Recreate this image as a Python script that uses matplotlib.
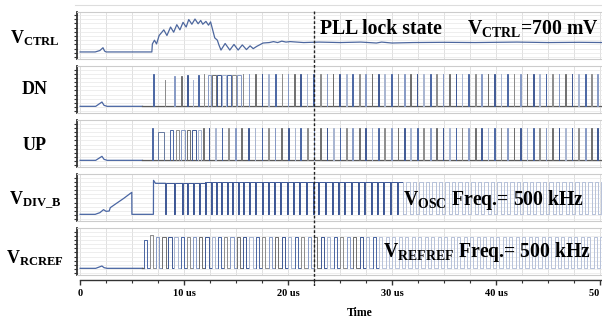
import numpy as np
import matplotlib
matplotlib.use('Agg')
import matplotlib.pyplot as plt
from matplotlib.lines import Line2D

plt.rcParams['font.family'] = 'Liberation Serif'
plt.rcParams['font.weight'] = 'bold'
plt.rcParams['mathtext.fontset'] = 'custom'
plt.rcParams['mathtext.rm'] = 'Liberation Serif:bold'
plt.rcParams['mathtext.bf'] = 'Liberation Serif:bold'
plt.rcParams['mathtext.it'] = 'Liberation Serif:bold'

# ---- data (time in us) ----
# V_CTRL trace: (time, level as fraction of panel)
vctrl_t = [0, 1.45, 1.9, 2.2, 2.35, 2.5, 6.9, 6.95, 7.15, 7.35, 7.6, 8.05, 8.35, 8.7, 9.0, 9.3,
           9.6, 9.9, 10.2, 10.45, 10.75, 11.05, 11.35, 11.6, 11.8, 12.1, 12.35, 12.55, 12.75,
           12.95, 13.2, 13.35, 13.55, 13.95, 14.4, 14.8, 15.2, 15.6, 16.0, 16.35, 16.65, 17.0,
           17.6, 18.2, 18.6, 19.0, 19.4, 19.8, 20.2, 21.5, 23.0, 25.0, 27.0, 28.5, 29.0, 30.0,
           32.0, 35.0, 38.0, 42.0, 45.0, 48.0, 50.5]
vctrl_v = [0.15, 0.15, 0.18, 0.24, 0.17, 0.15, 0.15, 0.32, 0.40, 0.32, 0.50, 0.62, 0.50, 0.68,
           0.57, 0.73, 0.62, 0.78, 0.68, 0.84, 0.74, 0.85, 0.75, 0.82, 0.74, 0.80, 0.72, 0.79,
           0.62, 0.45, 0.40, 0.30, 0.19, 0.33, 0.19, 0.31, 0.19, 0.30, 0.20, 0.28, 0.22, 0.27,
           0.34, 0.35, 0.37, 0.35, 0.38, 0.36, 0.37, 0.35, 0.36, 0.35, 0.36, 0.34, 0.36, 0.34,
           0.35, 0.355, 0.35, 0.36, 0.35, 0.355, 0.35]

# small start-up glitch seen on DN / UP / V_RCREF
bump_t = [0, 1.5, 2.1, 2.3, 2.6, 6.0]
dn_bump = [0, 0, 0.13, 0.03, 0, 0]
up_bump = [0, 0, 0.12, 0.03, 0, 0]
rc_bump = [0, 0, 0.07, 0.02, 0, 0]

# DN pulses
dn_spike_t = [7.0, 8.15, 9.05, 9.72, 10.3, 10.82, 11.35, 11.88]
dn_spike_h = [0.98, 0.80, 0.92, 0.92, 0.94, 0.80, 0.94, 0.97]
dn_wide_t = [12.28, 12.72, 13.2, 13.68, 14.16, 14.64, 15.12]
dn_lock_t = [15.62, 16.22, 16.83, 17.47, 18.11, 18.75, 19.39, 19.97, 20.61, 21.15, 21.8, 22.43,
             23.08, 23.72, 24.3, 24.93, 25.58, 26.18, 26.83, 27.4, 28.05, 28.68, 29.26, 29.9,
             30.55, 31.18, 31.73, 32.38, 33.01, 33.65, 34.23, 34.87, 35.48, 36.12, 36.7, 37.34,
             37.98, 38.56, 39.2, 39.81, 40.45, 41.06, 41.7, 42.31, 42.95, 43.56, 44.16, 44.78,
             45.38, 46.03, 46.63, 47.28, 47.91, 48.56, 49.13, 49.74]

# UP pulses
up_spike_t = [6.95]
up_first_wide = [7.53, 8.11]
up_mid_t = [8.65, 9.2, 9.72, 10.26, 10.78, 11.31]
up_lock_t = [11.86, 12.38, 12.98, 13.62, 14.26, 14.9, 15.5, 16.15, 16.8, 17.45, 18.08, 18.73,
             19.37, 19.99, 20.63, 21.17, 21.82, 22.45, 23.08, 23.7, 24.32, 24.95, 25.58, 26.2,
             26.83, 27.42, 28.06, 28.7, 29.27, 29.91, 30.55, 31.18, 31.75, 32.4, 33.02, 33.65,
             34.25, 34.88, 35.5, 36.12, 36.72, 37.35, 37.98, 38.58, 39.22, 39.82, 40.45, 41.08,
             41.7, 42.32, 42.95, 43.57, 44.17, 44.8, 45.4, 46.03, 46.65, 47.28, 47.92, 48.56,
             49.15, 49.75]

# V_DIV_B start-up ramp, then falling edges of the divider output
vdiv_pre_t = [0, 1.45, 1.9, 2.25, 2.5, 2.8, 2.9, 3.5, 4.2, 4.97, 4.98, 7.05, 7.06, 7.25, 8.17]
vdiv_pre_v = [0, 0, 0.05, 0.14, 0.09, 0.10, 0.20, 0.33, 0.48, 0.66, 0, 0, 1.02, 0.93, 0.93]
vdiv_dip_t = [8.17, 9.04, 9.78, 10.32, 10.89, 11.47, 12.02, 12.57, 13.08, 13.56, 14.1, 14.64,
              15.16, 15.7, 16.28, 16.83, 17.47, 18.11, 18.65, 19.23, 19.87, 20.51, 21.09, 21.73,
              22.37, 22.92, 23.56, 24.2, 24.84, 25.41, 26.06, 26.7, 27.34, 27.95, 28.53, 29.16,
              29.81, 30.45, 31.07, 31.7, 32.32, 32.95, 33.57, 34.2, 34.82, 35.45, 36.07, 36.7,
              37.32, 37.95, 38.57, 39.2, 39.82, 40.45, 41.07, 41.7, 42.32, 42.95, 43.57, 44.2,
              44.82, 45.45, 46.07, 46.7, 47.32, 47.95, 48.57, 49.2, 49.82]

# V_RCREF rising edges
rc_rise_t = [6.15, 6.73, 7.31, 7.91, 8.49, 9.07, 9.66, 10.26, 10.85, 11.44, 12.04, 12.64,
             13.24, 13.85, 14.45, 15.06, 15.67, 16.28, 16.9, 17.52, 18.15, 18.77, 19.4, 20.02,
             20.65, 21.27, 21.9, 22.52, 23.15, 23.77, 24.4, 25.02, 25.65, 26.27, 26.9, 27.52,
             28.15, 28.77, 29.4, 30.02, 30.65, 31.27, 31.9, 32.52, 33.15, 33.77, 34.4, 35.02,
             35.65, 36.27, 36.9, 37.52, 38.15, 38.77, 39.4, 40.02, 40.65, 41.27, 41.9, 42.52,
             43.15, 43.77, 44.4, 45.02, 45.65, 46.27, 46.9, 47.52, 48.15, 48.77, 49.4, 50.02]
rc_first_h = [0.85, 1.0, 0.93]

lock_t = 22.5
tick_vals = [0, 10, 20, 30, 40, 50]
tick_labels = ['0', '10 us', '20 us', '30 us', '40 us', '50 us']
row_labels = [r'$\mathbf{V_{CTRL}}$', 'DN', 'UP', r'$\mathbf{V_{DIV\_B}}$', r'$\mathbf{V_{RCREF}}$']

# ---- layout ----
W, H = 602, 322
XMIN, XMAX = -0.3, 50.2
MIX = ['#4a66a3', '#8c8c8c', '#8598c4', '#6e6e6e', '#3f5893', '#a7b4d0']
BASE = '#5a5a5a'
LIGHT = '#b7c2d9'
LW = 0.7

fig = plt.figure(figsize=(W / 100, H / 100), dpi=100)


def fy(py):
    return 1 - py / H


axes = []
for i in range(5):
    top = 12 + 54 * i
    ax = fig.add_axes([77 / W, fy(top + 47), 525 / W, 47 / H])
    ax.set_xlim(XMIN, XMAX)
    ax.set_ylim(-0.2, 1.21)
    ax.set_xticks(np.arange(0, 51, 2.5))
    ax.set_yticks(np.arange(-0.15, 1.2, 0.125))
    ax.grid(axis='x', color='#dadada', lw=0.6)
    ax.grid(axis='y', color='#e8e8e8', lw=0.5)
    ax.tick_params(labelbottom=False, labelleft=False, bottom=False, left=True,
                   length=2, width=0.8, color='#333333', direction='out')
    ax.spines['right'].set_visible(False)
    for s in ['top', 'bottom']:
        ax.spines[s].set_color('#cccccc')
        ax.spines[s].set_linewidth(0.8)
    ax.spines['left'].set_color('#333333')
    ax.spines['left'].set_linewidth(1.3)
    ax.set_axisbelow(True)
    axes.append(ax)


def pulse(ax, s, w, h, c, lw=LW):
    ax.plot([s, s, s + w, s + w], [0, h, h, 0], color=c, lw=lw, solid_joinstyle='miter')


# V_CTRL
ax = axes[0]
ax.set_ylim(0, 1)
ax.set_yticks(np.arange(0.04, 1.0, 0.09))
ax.plot(vctrl_t, vctrl_v, color='#4d679e', lw=0.9)

# DN
ax = axes[1]
ax.plot(bump_t, dn_bump, color='#4a66a3', lw=0.9)
ax.plot([6.0, XMAX], [0, 0], color=BASE, lw=0.9)
for k, (s, h) in enumerate(zip(dn_spike_t, dn_spike_h)):
    pulse(ax, s, 0.06, h, MIX[k % len(MIX)])
for k, s in enumerate(dn_wide_t):
    pulse(ax, s, 0.31, 0.95, MIX[(k + 2) % len(MIX)])
for k, s in enumerate(dn_lock_t):
    pulse(ax, s, 0.06, 0.97, MIX[(k + 1) % len(MIX)])

# UP
ax = axes[2]
ax.plot(bump_t, up_bump, color='#4a66a3', lw=0.9)
ax.plot([6.0, XMAX], [0, 0], color=BASE, lw=0.9)
for s in up_spike_t:
    pulse(ax, s, 0.08, 0.98, '#4a66a3')
pulse(ax, up_first_wide[0], up_first_wide[1] - up_first_wide[0], 0.85, '#66799f')
for k, s in enumerate(up_mid_t):
    pulse(ax, s, 0.33, 0.9, MIX[k % len(MIX)])
for k, s in enumerate(up_lock_t):
    pulse(ax, s, 0.06, 0.96, MIX[(k + 3) % len(MIX)])

# V_DIV_B
ax = axes[3]
ax.plot(vdiv_pre_t, vdiv_pre_v, color='#4a66a3', lw=0.9)
for k, d in enumerate(vdiv_dip_t):
    w = 0.1 if d < 30.5 else 0.31
    c = '#3d5795' if d < 30.5 else LIGHT
    h = 0.93 if d < 12 else 0.98
    end = vdiv_dip_t[k + 1] if k + 1 < len(vdiv_dip_t) else XMAX
    ax.plot([d, d, d + w, d + w, end, end], [h, 0, 0, h, h, 0 if end < XMAX else h],
            color=c, lw=LW)

# V_RCREF
ax = axes[4]
ax.plot(bump_t, rc_bump, color='#4a66a3', lw=0.9)
ax.plot([6.0, 6.15], [0, 0], color=BASE, lw=0.9)
for k, s in enumerate(rc_rise_t):
    h = rc_first_h[k] if k < len(rc_first_h) else 0.93
    c = MIX[k % len(MIX)] if s < 28.3 else LIGHT
    nxt = rc_rise_t[k + 1] if k + 1 < len(rc_rise_t) else XMAX
    ax.plot([s, s, s + 0.31, s + 0.31, nxt], [0, h, h, 0, 0], color=c, lw=LW)

# time axis
tax = fig.add_axes([77 / W, fy(280), 525 / W, 0.001])
tax.set_xlim(XMIN, XMAX)
tax.patch.set_visible(False)
for s in ['top', 'left', 'right']:
    tax.spines[s].set_visible(False)
tax.spines['bottom'].set_bounds(0, XMAX)
tax.spines['bottom'].set_color('#333333')
tax.spines['bottom'].set_linewidth(1.0)
tax.set_yticks([])
tax.set_xticks(tick_vals)
tax.set_xticklabels(tick_labels, fontsize=7.5, fontweight='bold')
tax.set_xticks(np.arange(0, 51, 2.5), minor=True)
tax.tick_params(axis='x', which='major', length=3.5, width=1.0, color='#333333', pad=3)
tax.tick_params(axis='x', which='minor', length=2, width=0.8, color='#333333')
fig.text(360 / W, fy(316), 'Time', ha='center', va='baseline', fontsize=8.5)

# lock marker
oax = fig.add_axes([77 / W, fy(286), 525 / W, (286 - 10) / H])
oax.set_xlim(XMIN, XMAX)
oax.set_ylim(0, 1)
oax.axis('off')
oax.axvline(lock_t, color='#222222', lw=1.0, ls=(0, (2, 1.5)))
fig.add_artist(Line2D([75 / W, 1], [fy(5), fy(5)], color='#dddddd', lw=0.8))

# row labels
for lab, yb in zip(row_labels, [43, 94, 150, 205, 263]):
    fig.text(35 / W, fy(yb), lab, ha='center', va='baseline', fontsize=13)

# annotations
fig.text(320 / W, fy(34), 'PLL lock state', ha='left', va='baseline', fontsize=14.2)
fig.text(467 / W, fy(34), r'$\mathbf{V_{CTRL}}$=700 mV', ha='left', va='baseline', fontsize=14.2)
fig.text(403 / W, fy(205), r'$\mathbf{V_{OSC}}$ Freq.= 500 kHz', ha='left', va='baseline',
         fontsize=14.2)
fig.text(383 / W, fy(257), r'$\mathbf{V_{REFREF}}$ Freq.= 500 kHz', ha='left', va='baseline',
         fontsize=14.2)

fig.savefig('out.png', dpi=100)
